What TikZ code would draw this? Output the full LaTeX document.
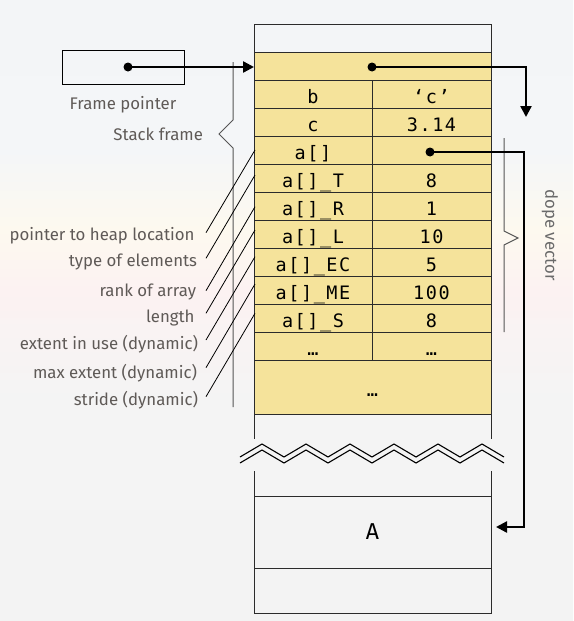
\documentclass[tikz,border=0pt]{standalone}
\usepackage{fontspec}
\setmainfont{Fira Sans}
\newfontfamily\tabfont[LetterSpace=8.4]{DejaVu Sans Mono}
\usetikzlibrary{arrows.meta,calc}
\definecolor{cellyellow}{HTML}{F5E39B}
\definecolor{labelgray}{HTML}{5F5A57}
\definecolor{dopegray}{HTML}{6A6A6A}
\definecolor{bracegray}{HTML}{555555}
\definecolor{gridline}{HTML}{2B2B2B}
\definecolor{bgA}{HTML}{F3F5F7}
\definecolor{bgB}{HTML}{F4F6F8}
\definecolor{bgC}{HTML}{FDF9EF}
\definecolor{bgD}{HTML}{FCF2F2}
\definecolor{bgE}{HTML}{F4F4F4}
\definecolor{bgF}{HTML}{F3F3F3}
\pgfdeclareverticalshading{bgshade}{100bp}{color(0bp)=(bgF); color(25bp)=(bgF); color(42.8bp)=(bgE); color(51.7bp)=(bgD); color(56.5bp)=(bgC); color(62.9bp)=(bgB); color(75bp)=(bgA); color(100bp)=(bgA)}
\begin{document}
\begin{tikzpicture}[x=1pt,y=-1pt,
  every node/.style={inner sep=0pt, outer sep=0pt},
  cellbase/.style={draw=gridline, line width=0.9pt, fill=cellyellow},
  cell/.style={cellbase, minimum height=28pt, text height=19pt, text depth=0pt,
    font=\tabfont\fontsize{18.5pt}{20pt}\selectfont},
  lcell/.style={cell, minimum width=118pt},
  rcell/.style={cell, minimum width=119pt},
  plainrow/.style={draw=gridline, line width=0.9pt, minimum width=237pt},
  note/.style={font=\fontsize{16.8pt}{20pt}\selectfont, text=labelgray, anchor=base east},
  lead/.style={draw=black, line width=0.8pt},
  bracestyle/.style={draw=bracegray, line width=1pt},
  ptr/.style={draw=black, line width=2.4pt, -{Triangle[length=11pt,width=11pt]}},
  dotstyle/.style={fill=black},
  zig/.style={draw=black, line width=1.1pt},
]
\useasboundingbox (0,0) rectangle (573,621);
\shade[shading=bgshade] (0,0) rectangle (573,621);

% stack column top
\node[plainrow, minimum height=28pt] (toprow) at (372.5,38) {};
\node[cellbase, minimum width=237pt, minimum height=28pt] (ptrrow) at (372.5,66) {};

% two-column cells
\node[lcell] (bname) at (313,94) {b};
\node[rcell] (bval) at (431.5,94) {‘c’};
\node[lcell] (cname) at (313,122) {c};
\node[rcell] (cval) at (431.5,122) {3.14};
\node[lcell] (aname) at (313,150) {a[]};
\node[rcell] (aval) at (431.5,150) {};
\node[lcell] (tname) at (313,178) {a[]\_T};
\node[rcell] (tval) at (431.5,178) {8};
\node[lcell] (rname) at (313,206) {a[]\_R};
\node[rcell] (rval) at (431.5,206) {1};
\node[lcell] (lname) at (313,234) {a[]\_L};
\node[rcell] (lval) at (431.5,234) {10};
\node[lcell] (ecname) at (313,262) {a[]\_EC};
\node[rcell] (ecval) at (431.5,262) {5};
\node[lcell] (mename) at (313,290) {a[]\_ME};
\node[rcell] (meval) at (431.5,290) {100};
\node[lcell] (sname) at (313,318) {a[]\_S};
\node[rcell] (sval) at (431.5,318) {8};
\node[lcell] (dname) at (313,346) {…};
\node[rcell] (dval) at (431.5,346) {…};
\node[cell, minimum width=237pt, minimum height=54pt] (bigdots) at (372.5,387) {…};

% column continuation below
\draw[draw=gridline, line width=0.9pt] (bigdots.south west) -- (254,439);
\draw[draw=gridline, line width=0.9pt] (bigdots.south east) -- (491,439);
\node[plainrow, minimum height=72pt, text height=14.6pt, text depth=0pt,
  font=\fontsize{23pt}{26pt}\selectfont] (Arow) at (372.5,532) {A};
\node[plainrow, minimum height=45pt] (botrow) at (372.5,590.5) {};
\draw[draw=gridline, line width=0.9pt] (254,471) -- (Arow.north west);
\draw[draw=gridline, line width=0.9pt] (491,471) -- (Arow.north east);

% zigzag break
\draw[zig] (240,457) -- (262,444) -- (284,457) -- (306,444) -- (328,457) -- (350,444) -- (372,457)
  -- (394,444) -- (416,457) -- (438,444) -- (460,457) -- (482,444) -- (504,457);
\draw[zig] (240,463) -- (262,450) -- (284,463) -- (306,450) -- (328,463) -- (350,450) -- (372,463)
  -- (394,450) -- (416,463) -- (438,450) -- (460,463) -- (482,450) -- (504,463);

% braces
\draw[bracestyle] (233,62) -- (233,120) -- (219,134) -- (233,148) -- (233,407);
\draw[bracestyle] (504,138) -- (504,231) -- (518,238) -- (504,245) -- (504,332);

% frame pointer
\node[draw=black, line width=0.9pt, minimum width=122pt, minimum height=34pt] (fpbox) at (123,67) {};
\node[note, anchor=base] (fplabel) at (123,109) {Frame pointer};
\node[note] (sflabel) at (203,140) {Stack frame};
\node[rotate=-90, font=\fontsize{16.8pt}{20pt}\selectfont, text=dopegray] (dopelabel) at (550,235) {dope vector};

\coordinate (fpdot) at (128,67);
\draw[ptr] (fpdot) -- (fpdot -| ptrrow.west);
\fill[dotstyle] (fpdot) circle (4.5);

\coordinate (ptrdot) at (372,67);
\coordinate (sfend) at (526,117);
\draw[ptr] (ptrdot) -| (sfend);
\fill[dotstyle] (ptrdot) circle (4.5);

\coordinate (adot) at (430,152);
\coordinate (aend) at (496,527);
\draw[ptr] (adot) -- (524,152) |- (aend);
\fill[dotstyle] (adot) circle (4.5);

% annotation labels
\node[note] (n1) at (194.5,240) {pointer to heap location};
\node[note] (n2) at (197,266) {type of elements};
\node[note] (n3) at (196,296) {rank of array};
\node[note] (n4) at (194.5,322) {length};
\node[note] (n5) at (198,349) {extent in use (dynamic)};
\node[note] (n6) at (197,378) {max extent (dynamic)};
\node[note] (n7) at (198,405) {stride (dynamic)};

\draw[lead] (206,232.7) -- (255,150);
\draw[lead] (206,258.3) -- (255,175);
\draw[lead] (206,290.7) -- (255,206.7);
\draw[lead] (206,313.3) -- (255,230);
\draw[lead] (206,340) -- (255,256.7);
\draw[lead] (206,367.7) -- (255,284);
\draw[lead] (206,396.7) -- (255,313.3);
\end{tikzpicture}
\end{document}
